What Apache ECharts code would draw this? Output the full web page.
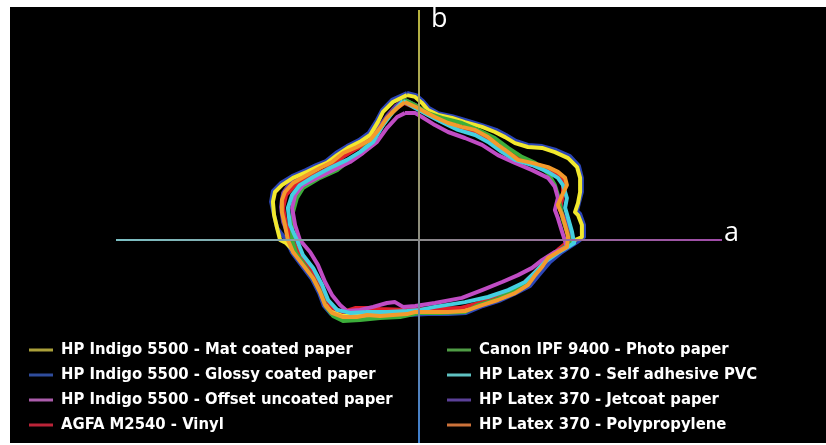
<!DOCTYPE html>
<html>
<head>
<meta charset="utf-8">
<script src="https://cdn.jsdelivr.net/npm/echarts@6/dist/echarts.min.js"></script>
<style>
  body { margin:0; background:#fff; }
  #gamut { position:absolute; left:10px; top:7px; width:816px; height:436px; background:#000; }
</style>
</head>
<body>
<div id="gamut"></div>
<script>
// gamut boundaries in the a-b plane (a, b)
var matCoated = [[-4.0,48.3],[-1.3,47.7],[1.0,45.7],[3.0,43.3],[6.3,41.7],[11.0,40.7],[15.3,39.3],[21.0,37.7],[25.3,36.0],[28.7,34.3],[32.0,32.3],[36.3,31.0],[41.0,30.7],[45.3,29.3],[49.7,27.3],[52.7,24.3],[53.7,20.7],[53.7,16.0],[53.0,12.3],[52.0,9.3],[53.0,8.3],[54.3,5.0],[54.3,1.0],[52.0,0.0],[49.3,-1.7],[46.3,-3.7],[43.0,-5.7],[41.0,-8.7],[38.7,-11.3],[36.3,-14.7],[32.0,-17.3],[26.3,-19.7],[21.0,-21.3],[15.3,-23.3],[9.7,-23.7],[3.0,-23.7],[-4.0,-24.3],[-8.7,-24.7],[-13.0,-25.0],[-20.7,-25.3],[-25.3,-25.3],[-28.7,-24.0],[-31.0,-21.3],[-32.7,-17.0],[-35.0,-12.3],[-38.3,-8.0],[-41.7,-3.7],[-44.3,-1.0],[-46.3,0.0],[-47.3,4.0],[-48.3,8.3],[-48.7,12.7],[-48.0,16.0],[-45.7,18.3],[-42.0,20.7],[-37.3,22.7],[-34.0,24.3],[-30.7,25.7],[-27.3,28.3],[-23.7,30.7],[-19.7,32.7],[-16.3,35.0],[-13.7,39.3],[-12.0,42.7],[-8.7,46.0]];
var glossyCoated = [[-4.0,49.0],[-1.0,48.3],[1.3,46.3],[3.3,44.0],[6.3,42.3],[11.0,41.3],[15.3,40.0],[21.0,38.3],[25.7,36.7],[29.0,35.0],[32.3,33.0],[36.3,31.7],[41.0,31.3],[45.7,30.0],[50.3,28.0],[53.3,24.7],[54.3,20.7],[54.3,16.0],[53.3,12.3],[52.7,9.7],[53.7,8.7],[55.0,5.0],[55.0,1.0],[52.7,-0.7],[50.3,-2.3],[47.7,-4.0],[43.7,-7.3],[40.3,-11.3],[37.0,-15.3],[32.3,-17.7],[26.7,-20.3],[21.3,-22.0],[15.7,-24.3],[9.7,-24.7],[3.0,-24.7],[-4.0,-25.0],[-8.7,-25.3],[-13.0,-25.7],[-20.7,-26.0],[-25.3,-26.0],[-29.3,-24.7],[-31.7,-22.0],[-33.3,-17.7],[-35.7,-13.0],[-39.0,-8.7],[-42.3,-4.3],[-44.3,0.0],[-47.3,4.0],[-48.3,8.3],[-49.3,12.7],[-48.7,16.3],[-46.0,19.0],[-42.3,21.3],[-37.7,23.3],[-34.3,25.0],[-31.0,26.3],[-27.7,29.0],[-24.0,31.3],[-20.0,33.3],[-16.7,35.7],[-14.0,40.0],[-12.3,43.3],[-9.0,46.7]];
var offsetUncoated = [[-4.7,42.3],[-1.3,42.3],[1.0,41.0],[5.3,38.3],[9.7,36.0],[15.3,34.0],[21.0,31.7],[26.3,28.3],[32.0,25.7],[37.7,23.3],[43.0,20.7],[45.3,17.7],[46.3,14.0],[45.3,10.0],[46.3,7.3],[47.7,2.7],[49.3,-2.3],[45.3,-4.0],[41.0,-6.7],[37.7,-9.3],[33.0,-11.7],[27.7,-14.0],[21.0,-16.7],[14.3,-19.3],[5.3,-21.0],[-1.3,-22.0],[-5.3,-22.3],[-8.0,-20.7],[-10.7,-21.0],[-15.3,-22.3],[-19.7,-23.3],[-24.0,-23.7],[-26.3,-21.7],[-29.0,-18.3],[-31.3,-14.0],[-33.7,-8.3],[-36.3,-4.0],[-39.7,0.0],[-41.3,5.0],[-42.3,10.7],[-41.3,15.0],[-38.7,18.3],[-34.0,20.7],[-28.7,23.3],[-23.0,26.0],[-18.7,29.0],[-14.0,32.7],[-10.7,37.3],[-7.3,41.0]];
var vinyl = [[-5.0,45.7],[-0.3,43.7],[5.3,40.7],[14.3,37.3],[23.0,34.0],[29.7,29.0],[36.0,26.0],[43.0,24.0],[48.0,20.0],[48.0,15.0],[47.0,10.7],[48.7,5.0],[50.3,0.0],[46.3,-3.3],[42.0,-7.3],[37.7,-11.7],[34.3,-15.0],[28.7,-17.7],[21.0,-20.7],[13.7,-22.7],[3.7,-23.0],[-4.0,-23.3],[-13.0,-23.0],[-17.3,-22.7],[-21.3,-22.7],[-25.3,-24.0],[-28.7,-22.7],[-31.3,-19.3],[-33.7,-14.3],[-36.3,-9.3],[-39.7,-5.0],[-42.3,0.0],[-44.3,5.0],[-45.3,10.7],[-44.3,15.0],[-41.3,18.3],[-36.3,21.0],[-31.3,23.3],[-25.3,27.7],[-20.3,30.7],[-15.7,33.3],[-12.3,38.0],[-9.0,42.7]];
var photoPaper = [[-4.7,46.7],[-1.3,45.0],[3.0,42.3],[7.7,40.7],[14.3,39.0],[19.7,36.7],[25.3,34.0],[29.7,30.7],[34.3,27.7],[38.7,25.7],[43.0,22.3],[45.3,18.3],[46.3,15.0],[47.0,11.7],[48.0,6.7],[49.7,1.7],[50.3,-1.0],[47.0,-3.3],[43.0,-6.0],[39.7,-10.0],[36.3,-14.3],[31.0,-17.3],[25.3,-20.0],[19.7,-21.7],[15.3,-24.0],[7.0,-24.3],[0.3,-24.3],[-6.3,-25.7],[-13.0,-26.0],[-19.7,-26.7],[-25.3,-27.0],[-28.7,-25.3],[-31.0,-22.3],[-32.7,-17.7],[-35.0,-13.3],[-38.0,-8.7],[-41.0,-4.3],[-42.3,0.0],[-42.3,5.0],[-42.0,9.3],[-40.7,14.0],[-38.7,17.3],[-33.0,20.7],[-27.3,23.3],[-23.0,26.7],[-18.7,30.0],[-15.3,34.0],[-12.0,38.3],[-8.7,42.7]];
var selfAdhesivePvc = [[-5.3,46.3],[-1.3,44.0],[3.0,41.7],[7.7,39.3],[13.0,36.7],[18.7,35.0],[23.0,32.7],[27.7,29.3],[32.0,26.7],[37.7,25.0],[43.0,22.7],[46.3,20.7],[48.0,18.3],[49.3,14.0],[48.7,10.7],[49.7,7.3],[51.0,2.7],[51.7,-1.0],[49.7,-2.3],[46.3,-4.3],[42.0,-7.3],[38.7,-10.7],[35.3,-14.0],[29.7,-16.7],[23.0,-19.0],[15.3,-20.7],[5.3,-22.3],[0.3,-23.3],[-4.0,-23.7],[-10.7,-24.0],[-17.3,-24.0],[-23.0,-24.3],[-27.3,-23.3],[-30.3,-20.0],[-32.3,-15.0],[-35.3,-9.3],[-38.7,-5.0],[-40.7,0.0],[-43.0,5.0],[-43.7,10.7],[-42.3,15.0],[-39.7,18.3],[-35.3,21.0],[-29.7,24.0],[-24.0,26.7],[-19.7,29.3],[-15.3,32.7],[-12.0,38.3],[-8.7,42.7]];
var jetcoat = [[-5.0,46.7],[-0.7,44.7],[2.7,42.0],[7.0,39.7],[13.7,37.3],[19.0,35.7],[23.3,33.3],[27.3,30.3],[32.3,27.3],[37.7,25.3],[43.0,23.3],[47.0,21.0],[48.7,17.7],[47.7,14.0],[47.0,10.3],[48.7,6.7],[50.3,2.0],[51.0,-1.0],[48.0,-3.0],[44.0,-5.7],[40.0,-9.3],[37.0,-13.0],[33.3,-16.0],[27.7,-18.7],[21.7,-21.0],[15.3,-22.7],[7.0,-23.7],[0.0,-24.0],[-6.0,-24.3],[-13.0,-24.7],[-20.0,-25.0],[-25.0,-25.3],[-28.7,-23.7],[-31.0,-20.7],[-32.7,-16.0],[-35.0,-11.0],[-38.3,-6.7],[-41.7,-2.7],[-43.3,1.0],[-45.3,6.0],[-46.0,11.0],[-45.3,15.7],[-43.0,19.0],[-38.3,22.0],[-34.0,24.3],[-30.0,26.0],[-26.0,28.7],[-21.0,31.0],[-16.7,33.7],[-13.3,37.7],[-10.7,41.3],[-7.7,44.7]];
var polypropylene = [[-4.7,46.0],[-0.3,44.0],[2.0,42.7],[5.3,41.0],[9.7,39.0],[14.3,37.7],[18.7,36.7],[23.0,34.3],[26.3,31.7],[29.7,29.3],[33.0,26.7],[37.7,25.7],[43.0,24.3],[46.3,22.7],[48.7,20.7],[49.3,18.3],[47.7,15.0],[46.3,11.7],[47.7,8.3],[48.7,5.0],[49.7,1.0],[50.3,0.7],[49.3,-2.3],[46.3,-4.0],[43.0,-6.0],[41.0,-9.0],[38.7,-11.7],[36.3,-15.0],[32.0,-17.7],[26.3,-20.0],[21.0,-21.7],[15.3,-23.7],[9.7,-24.0],[3.0,-24.0],[-1.3,-24.0],[-4.0,-24.7],[-8.7,-25.0],[-13.0,-25.3],[-17.3,-25.0],[-20.7,-25.7],[-25.3,-25.7],[-29.0,-24.3],[-31.3,-21.7],[-33.0,-17.3],[-35.3,-12.7],[-38.7,-8.3],[-42.0,-4.0],[-43.7,0.0],[-44.7,5.0],[-45.7,9.3],[-45.7,13.3],[-44.7,16.0],[-42.0,19.0],[-37.3,21.7],[-33.0,24.0],[-29.0,26.0],[-25.3,29.0],[-20.7,31.0],[-16.3,33.3],[-13.0,37.3],[-10.7,40.7],[-7.3,44.0]];

// axis cross
var axisA = [-101, 0, 101];
var axisB = [76.7, 0, -67.7];

var leftNames = ['HP Indigo 5500 - Mat coated paper', 'HP Indigo 5500 - Glossy coated paper', 'HP Indigo 5500 - Offset uncoated paper', 'AGFA M2540 - Vinyl'];
var rightNames = ['Canon IPF 9400 - Photo paper', 'HP Latex 370 - Self adhesive PVC', 'HP Latex 370 - Jetcoat paper', 'HP Latex 370 - Polypropylene'];
var leftSwatch = ['#aaa03a', '#2f4c9c', '#ab5cab', '#bb2438'];
var rightSwatch = ['#4f9c45', '#5fc2c2', '#5b4098', '#cc723a'];

var chart = echarts.init(document.getElementById('gamut'));

function closed(pts) { return pts.concat([pts[0]]); }

function gamut(name, pts, color) {
    return {
        name: name, type: 'line', data: closed(pts),
        symbol: 'none', silent: true,
        lineStyle: { color: color, width: 4, join: 'round' },
        itemStyle: { color: color }
    };
}

function axisSeg(name, pts, c0, c1, vertical) {
    return {
        name: name, type: 'line', data: pts, symbol: 'none', silent: true, z: 5,
        lineStyle: { width: 2, color: new echarts.graphic.LinearGradient(0, 0, vertical ? 0 : 1, vertical ? 1 : 0, [
            { offset: 0, color: c0 }, { offset: 1, color: c1 }
        ]) }
    };
}

function legendBlock(left, names, swatch) {
    return {
        left: left, top: 333, height: 103, padding: 0, orient: 'vertical', itemGap: 5, icon: 'rect',
        itemWidth: 24, itemHeight: 3,
        textStyle: { color: '#fff', fontSize: 16.5, fontWeight: 'bold', lineHeight: 20, padding: [0, 0, 0, 3],
            fontFamily: '"Liberation Sans Narrow", "DejaVu Sans Condensed", sans-serif' },
        data: names.map(function (n, i) { return { name: n, itemStyle: { color: swatch[i] } }; })
    };
}

var ORX = 409, ORY = 233, PX = 3;

option = {
    animation: false,
    grid: { left: 0, right: 0, top: 0, bottom: 0 },
    xAxis: { type: 'value', min: -ORX / PX, max: (816 - ORX) / PX, show: false },
    yAxis: { type: 'value', min: -(436 - ORY) / PX, max: ORY / PX, show: false },
    legend: [legendBlock(19, leftNames, leftSwatch), legendBlock(437, rightNames, rightSwatch)],
    graphic: [
        { type: 'text', left: 714, top: 213, style: { text: 'a', fill: '#fff', fontSize: 27, fontFamily: '"Open Sans", sans-serif' } },
        { type: 'text', left: 421, top: -1, style: { text: 'b', fill: '#fff', fontSize: 27, fontFamily: '"Open Sans", sans-serif' } }
    ],
    series: [
        gamut(leftNames[1], glossyCoated, '#2c46b8'),
        gamut(rightNames[2], jetcoat, '#6a3ca8'),
        gamut(leftNames[0], matCoated, '#f2e82e'),
        gamut(leftNames[3], vinyl, '#e0202a'),
        gamut(rightNames[0], photoPaper, '#3cae3a'),
        gamut(leftNames[2], offsetUncoated, '#c04cc4'),
        gamut(rightNames[1], selfAdhesivePvc, '#44cfe0'),
        gamut(rightNames[3], polypropylene, '#f39a2c'),
        axisSeg('a-', [[axisA[0], 0], [axisA[1], 0]], '#7cc0c4', '#8a8a8a', false),
        axisSeg('a+', [[axisA[1], 0], [axisA[2], 0]], '#8a8a8a', '#a04aa8', false),
        axisSeg('b+', [[0, axisB[0]], [0, axisB[1]]], '#b8b43c', '#8a8a80', true),
        axisSeg('b-', [[0, axisB[1]], [0, axisB[2]]], '#8a8a8a', '#3d7fd0', true)
    ]
};
chart.setOption(option);
</script>
</body>
</html>
